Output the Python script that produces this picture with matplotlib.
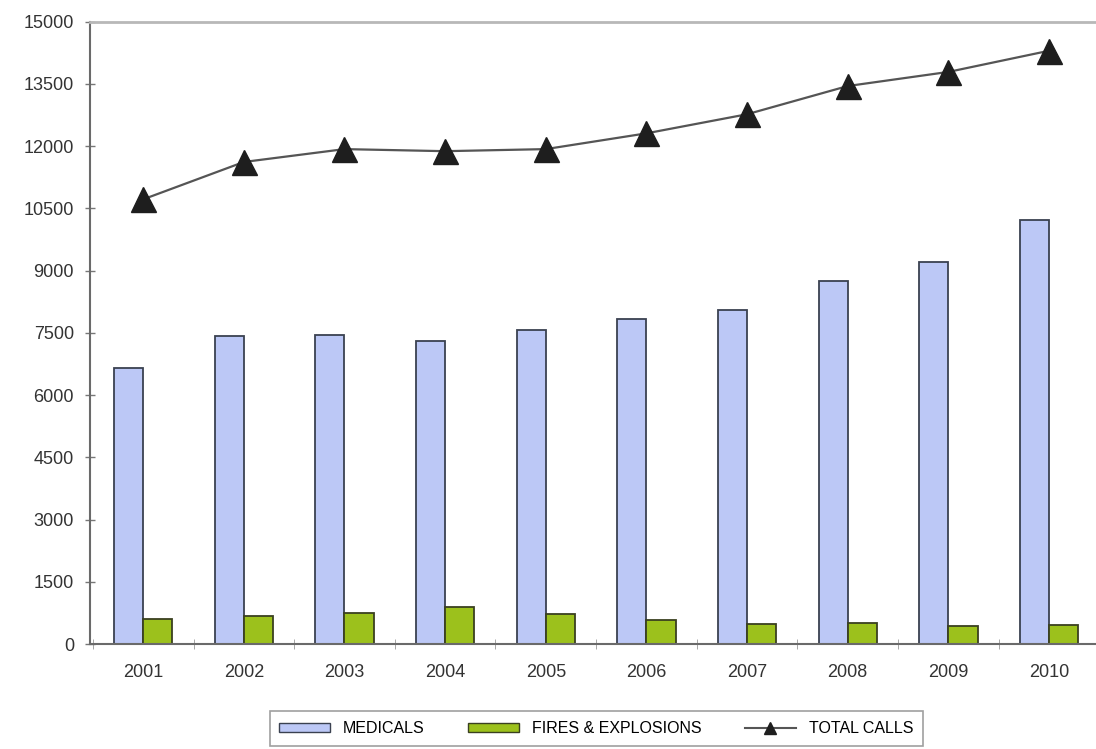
import matplotlib
matplotlib.use("Agg")
import matplotlib.pyplot as plt
import numpy as np
from matplotlib.lines import Line2D
from matplotlib.patches import Patch

years = ["2001", "2002", "2003", "2004", "2005", "2006", "2007", "2008", "2009", "2010"]
medicals = [6660, 7420, 7460, 7310, 7560, 7840, 8050, 8740, 9210, 10230]
fires = [600, 680, 740, 900, 720, 580, 480, 500, 440, 450]
total_calls = [10720, 11620, 11930, 11880, 11930, 12310, 12770, 13450, 13790, 14300]
y_ticks = list(range(0, 15001, 1500))

plt.rcParams["font.family"] = ["Liberation Sans", "DejaVu Sans"]

fig = plt.figure(figsize=(10.96, 7.49), dpi=100)
ax = fig.add_axes([0.082, 0.140, 0.921, 0.831])

x = np.arange(len(years))
w = 0.29
ax.bar(x - w / 2, medicals, width=w, color="#bcc8f6", edgecolor="#3a4150", linewidth=1.3, zorder=2)
ax.bar(x + w / 2, fires, width=w, color="#9cc11c", edgecolor="#3a4020", linewidth=1.3, zorder=2)
ax.plot(x, total_calls, color="#555555", linewidth=1.6, marker="^", markersize=18,
        markerfacecolor="#1e1e1e", markeredgecolor="#1e1e1e", zorder=3)

ax.set_xlim(-0.53, len(years) - 0.53)
ax.set_ylim(0, 15000)
ax.set_yticks(y_ticks)
ax.set_yticklabels([str(v) for v in y_ticks], fontsize=13, color="#333333")
ax.set_xticks(x)
ax.set_xticklabels(years, fontsize=13, color="#333333")
ax.tick_params(axis="x", length=0, pad=14)
ax.tick_params(axis="y", direction="inout", length=7, width=1, color="#777777", pad=8)
# category boundary ticks along the baseline
ax.set_xticks(np.arange(-0.5, len(years), 1.0), minor=True)
ax.tick_params(axis="x", which="minor", direction="inout", length=7, color="#999999")

for side in ("left", "bottom"):
    ax.spines[side].set_color("#6a6a6a")
    ax.spines[side].set_linewidth(1.5)
ax.spines["top"].set_color("#b8b8b8")
ax.spines["top"].set_linewidth(2)
ax.spines["right"].set_visible(False)

handles = [
    Patch(facecolor="#bcc8f6", edgecolor="#3a4150", label="MEDICALS"),
    Patch(facecolor="#9cc11c", edgecolor="#3a4020", label="FIRES & EXPLOSIONS"),
    Line2D([0], [0], color="#555555", marker="^", markersize=8,
           markerfacecolor="#1e1e1e", markeredgecolor="#1e1e1e", label="TOTAL CALLS"),
]
leg = fig.legend(handles=handles, loc="lower center", bbox_to_anchor=(0.544, -0.006),
                 ncol=3, fontsize=11.5, frameon=True, fancybox=False, edgecolor="#888888",
                 handlelength=3.2, handleheight=0.5, columnspacing=2.7, borderpad=0.6)
leg.get_frame().set_linewidth(1.2)

fig.savefig("out.png", dpi=100, facecolor="white")
